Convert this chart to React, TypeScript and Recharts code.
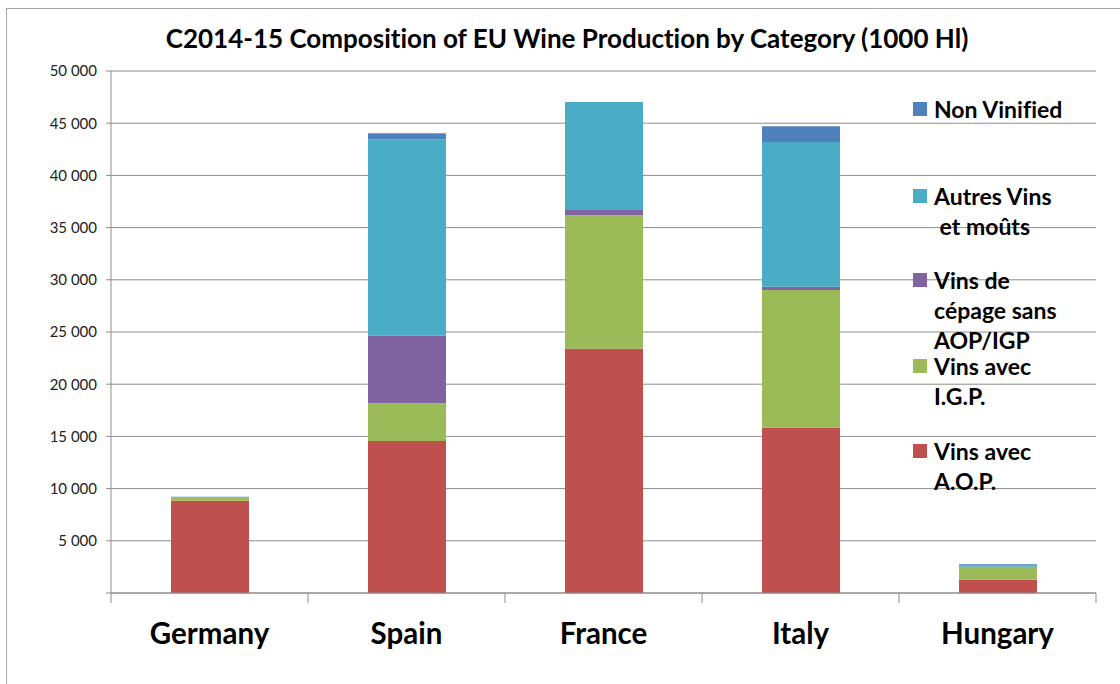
import { Bar, BarChart, CartesianGrid, XAxis, YAxis } from "recharts";

const countries = ["Germany", "Spain", "France", "Italy", "Hungary"];

// 1000 hl
const aop = [8840, 14560, 23400, 15830, 1270];
const igp = [290, 3610, 12780, 13190, 1250];
const cepage = [0, 6480, 510, 320, 0];
const autres = [50, 18810, 10340, 13860, 80];
const nonVinified = [40, 570, 0, 1500, 150];

const yTicks = [0, 5000, 10000, 15000, 20000, 25000, 30000, 35000, 40000, 45000, 50000];

const series = [
  { key: "aop", name: "Vins avec A.O.P.", color: "#C0504D" },
  { key: "igp", name: "Vins avec I.G.P.", color: "#9BBB59" },
  { key: "cepage", name: "Vins de cépage sans AOP/IGP", color: "#8064A2" },
  { key: "autres", name: "Autres Vins et moûts", color: "#4BACC6" },
  { key: "nonVinified", name: "Non Vinified", color: "#4F81BD" },
];

// legend lines, top to bottom, with the offset each entry starts at
const legendEntries = [
  { key: "nonVinified", lines: ["Non Vinified"], top: 0 },
  { key: "autres", lines: ["Autres Vins", "\u00a0et moûts"], top: 87 },
  { key: "cepage", lines: ["Vins de", "cépage sans", "AOP/IGP"], top: 171 },
  { key: "igp", lines: ["Vins avec", "I.G.P."], top: 257 },
  { key: "aop", lines: ["Vins avec", "A.O.P."], top: 342 },
];

const data = countries.map((country, i) => ({
  country,
  aop: aop[i],
  igp: igp[i],
  cepage: cepage[i],
  autres: autres[i],
  nonVinified: nonVinified[i],
}));

const FONT = "Lato, 'Open Sans', sans-serif";
const CHART_W = 1120;
const Y_AXIS_W = 111;
const MARGIN_RIGHT = 24;
const HALF_BAND = (CHART_W - Y_AXIS_W - MARGIN_RIGHT) / countries.length / 2;

function formatThousands(v: number): string {
  if (v === 0) return "";
  return v.toLocaleString("en-US").replace(/,/g, " ");
}

// category label plus Excel-style tick marks on the category boundaries
function CountryTick(props: any) {
  const { x, y, payload, index } = props;
  const last = index === countries.length - 1;
  return (
    <g>
      <line x1={x - HALF_BAND} x2={x - HALF_BAND} y1={y} y2={y + 10} stroke="#8c8c8c" />
      {last && <line x1={x + HALF_BAND} x2={x + HALF_BAND} y1={y} y2={y + 10} stroke="#8c8c8c" />}
      <text
        x={x}
        y={y + 51}
        textAnchor="middle"
        fontSize={29.5}
        fontWeight={700}
        fontFamily={FONT}
        fill="#000"
      >
        {payload.value}
      </text>
    </g>
  );
}

function LegendBox() {
  return (
    <div
      style={{
        position: "absolute",
        left: 913,
        top: 94,
        width: 200,
        height: 420,
        fontFamily: FONT,
        fontVariantLigatures: "none",
      }}
    >
      {legendEntries.map((entry) => {
        const s = series.find((x) => x.key === entry.key)!;
        return (
          <div key={entry.key} style={{ position: "absolute", top: entry.top, left: 0 }}>
            <div
              style={{
                position: "absolute",
                left: 0,
                top: 8,
                width: 14,
                height: 14,
                background: s.color,
              }}
            />
            <div
              style={{
                marginLeft: 21,
                fontSize: 23,
                fontWeight: 700,
                lineHeight: "30px",
                color: "#000",
                whiteSpace: "nowrap",
              }}
            >
              {entry.lines.map((l) => (
                <div key={l}>{l}</div>
              ))}
            </div>
          </div>
        );
      })}
    </div>
  );
}

export default function App() {
  return (
    <div
      style={{
        position: "absolute",
        left: 0,
        top: 0,
        width: CHART_W,
        height: 684,
        overflow: "hidden",
        background: "#fff",
      }}
    >
      <div
        style={{
          position: "absolute",
          left: 6,
          top: 8,
          width: 1200,
          height: 800,
          border: "1px solid #a6a6a6",
        }}
      />
      <div
        style={{
          position: "absolute",
          left: 0,
          width: 1134,
          top: 22,
          textAlign: "center",
          fontFamily: FONT,
          fontVariantLigatures: "none",
          fontWeight: 700,
          fontSize: 26,
          color: "#000",
        }}
      >
        C2014-15 Composition of EU Wine Production by Category (1000 Hl)
      </div>
      <BarChart
        width={CHART_W}
        height={684}
        data={data}
        margin={{ top: 71, right: MARGIN_RIGHT, bottom: 0, left: 0 }}
        style={{ position: "absolute", left: 0, top: 0 }}
      >
        <CartesianGrid stroke="#8c8c8c" vertical={false} />
        <XAxis
          dataKey="country"
          height={91}
          axisLine={{ stroke: "#8c8c8c" }}
          tickLine={false}
          tickSize={0}
          tickMargin={0}
          interval={0}
          tick={<CountryTick />}
        />
        <YAxis
          width={Y_AXIS_W}
          domain={[0, 50000]}
          ticks={yTicks}
          interval={0}
          tickFormatter={formatThousands}
          axisLine={{ stroke: "#8c8c8c" }}
          tickLine={{ stroke: "#8c8c8c" }}
          tickSize={5}
          tickMargin={9}
          tick={{ fontSize: 15, fill: "#222", fontFamily: FONT }}
        />
        {series.map((s) => (
          <Bar
            key={s.key}
            dataKey={s.key}
            name={s.name}
            stackId="wine"
            fill={s.color}
            barSize={78}
            isAnimationActive={false}
          />
        ))}
      </BarChart>
      <LegendBox />
    </div>
  );
}
